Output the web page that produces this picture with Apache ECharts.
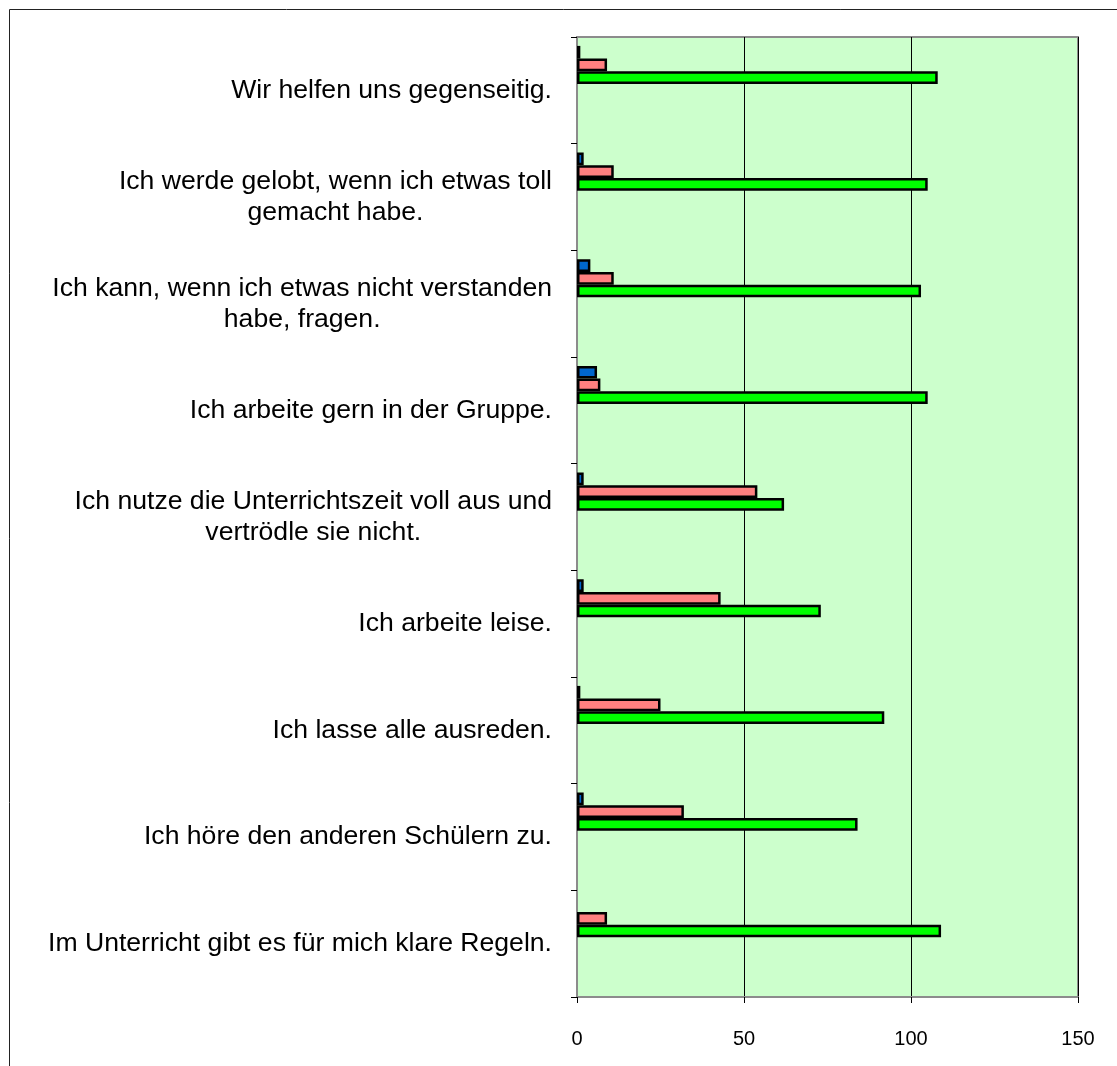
<!DOCTYPE html>
<html>
<head>
<meta charset="utf-8">
<script src="https://cdn.jsdelivr.net/npm/echarts@6/dist/echarts.min.js"></script>
<style>
html,body{margin:0;padding:0;background:#fff;}
#chart{width:1117px;height:1066px;}
</style>
</head>
<body>
<div id="chart"></div>
<script>
// Categories, bottom to top (Excel order)
const categories = [
  "Im Unterricht gibt es für mich klare Regeln.",
  "Ich höre den anderen Schülern zu.",
  "Ich lasse alle ausreden.",
  "Ich arbeite leise.",
  "Ich nutze die Unterrichtszeit voll aus und\nvertrödle sie nicht.",
  "Ich arbeite gern in der Gruppe.",
  "Ich kann, wenn ich etwas nicht verstanden\nhabe, fragen.",
  "Ich werde gelobt, wenn ich etwas toll\ngemacht habe.",
  "Wir helfen uns gegenseitig."
];
const seriesBlue  = [0, 2, 1, 2, 2, 6, 4, 2, 1];
const seriesRed   = [9, 32, 25, 43, 54, 7, 11, 11, 9];
const seriesGreen = [109, 84, 92, 73, 62, 105, 103, 105, 108];
const xTicks = [0, 50, 100, 150];

const FONT = "'Liberation Sans', Arial, sans-serif";
const chart = echarts.init(document.getElementById('chart'), null, {renderer: 'canvas'});

function barSeries(name, data, color) {
  return {
    name: name, type: 'bar',
    data: data.map(function (v) {
      return v === 0 ? {value: v, itemStyle: {borderWidth: 0}} : v;
    }),
    barGap: '0%', barCategoryGap: '16.7%',
    itemStyle: {color: color, borderColor: '#000', borderWidth: 2.5},
    emphasis: {disabled: true}
  };
}
function spacer(name) {
  return {name: name, type: 'bar', data: [], barGap: '0%', barCategoryGap: '16.7%', silent: true};
}

chart.setOption({
  animation: false,
  backgroundColor: '#fff',
  grid: {
    left: 577, right: 39, top: 37, bottom: 69,
    show: true, backgroundColor: '#CCFFCC', borderColor: '#8c8c8c', borderWidth: 2
  },
  graphic: [{
    type: 'rect', silent: true, z: -10,
    shape: {x: 9.5, y: 9.5, width: 2000, height: 2000},
    style: {fill: 'none', stroke: '#222', lineWidth: 1}
  }],
  xAxis: {
    type: 'value', min: xTicks[0], max: xTicks[xTicks.length - 1], interval: 50,
    axisLine: {show: true, lineStyle: {color: '#8c8c8c', width: 2}},
    axisTick: {show: true, length: 6, lineStyle: {color: '#000', width: 1}},
    axisLabel: {color: '#000', fontSize: 20, fontFamily: FONT, margin: 32},
    splitLine: {show: true, lineStyle: {color: '#000', width: 1}}
  },
  yAxis: {
    type: 'category', data: categories,
    axisLine: {show: true, lineStyle: {color: '#8c8c8c', width: 2}},
    axisTick: {show: true, length: 6, lineStyle: {color: '#000', width: 1}},
    axisLabel: {
      margin: 25, align: 'right',
      formatter: function (v) {
        return v.split('\n').map(function (l) { return '{c|' + l + '}'; }).join('\n');
      },
      rich: {c: {align: 'center', fontSize: 26.6, fontFamily: FONT, color: '#000', lineHeight: 31}}
    },
    splitLine: {show: false}
  },
  series: [
    barSeries('Serie 1', seriesBlue, '#0066CC'),
    barSeries('Serie 2', seriesRed, '#FF8080'),
    barSeries('Serie 3', seriesGreen, '#00FF00'),
    spacer('s4'), spacer('s5'), spacer('s6'), spacer('s7')
  ]
});
</script>
</body>
</html>
